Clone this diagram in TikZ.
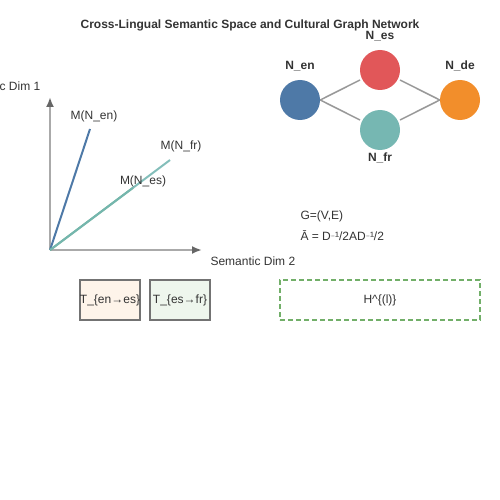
\documentclass[tikz,border=0pt]{standalone}
\usepackage{fontspec}
\setmainfont{Liberation Sans}
\newfontfamily\symfont{DejaVu Sans}
\usetikzlibrary{arrows,arrows.meta,positioning,backgrounds}

\definecolor{txt}{HTML}{333333}
\definecolor{cen}{HTML}{4E79A7}
\definecolor{ces}{HTML}{E15759}
\definecolor{cfr}{HTML}{76B7B2}
\definecolor{cde}{HTML}{F28E2B}
\definecolor{cgr}{HTML}{59A14F}
\definecolor{axis}{HTML}{AAAAAA}

\tikzset{
  lang/.style={circle,minimum size=40pt,inner sep=0pt},
  lbl/.style={font=\bfseries\fontsize{12}{14}\selectfont},
  tbox/.style={draw=black!55,line width=2pt,minimum width=60pt,minimum height=40pt,inner sep=0pt},
  vec/.style={line width=2pt},
  ax/.style={draw=axis,line width=2pt,-{Latex[length=10pt,width=8pt,color=black!60]}},
  link/.style={draw=black!40,line width=1.5pt}
}

\begin{document}
\begin{tikzpicture}[x=1pt,y=-1pt,font=\fontsize{12}{14}\selectfont,text=txt]
            \useasboundingbox (0,0) rectangle (500,500);
            \node[lbl] (title) at (250,25) {Cross-Lingual Semantic Space and Cultural Graph Network};

            % semantic space
            \coordinate (o) at (50,250);
            \coordinate (ytop) at (50,97);
            \coordinate (xend) at (202,250);
            \draw[ax] (o) -- (ytop);
            \draw[ax] (o) -- (xend);
            \node (ydim) at (-2,86) {Semantic Dim 1};
            \node[anchor=west] (xdim) at (207,261) {Semantic Dim 2};

            \coordinate (pen) at (90,129);
            \coordinate (pes) at (133,187.75);
            \coordinate (pfr) at (170,160);
            \draw[vec,cen] (o) -- (pen);
            \draw[vec,cgr!40!cfr] (o) -- (pes);
            \draw[vec,cfr,opacity=.9] (o) -- (pfr);
            \node (men) at (94,116) {M(N\_en)};
            \node (mfr) at (181,146) {M(N\_fr)};
            \node (mes) at (143,181) {M(N\_es)};

            % graph
            \node[lang,fill=cen] (en) at (300,100) {};
            \node[lang,fill=ces] (es) at (380,70) {};
            \node[lang,fill=cfr] (fr) at (380,130) {};
            \node[lang,fill=cde] (de) at (460,100) {};
            \node[lbl] (len) [above=5pt of en] {N\_en};
            \node[lbl] (les) [above=5pt of es] {N\_es};
            \node[lbl] (lfr) [below=-1pt of fr] {N\_fr};
            \node[lbl] (lde) [above=5pt of de] {N\_de};

            \begin{scope}[on background layer]
              \draw[link] (en.east) -- ([shift={(-20,10)}]es.center);
              \draw[link] (en.east) -- ([shift={(-20,-10)}]fr.center);
              \draw[link] ([shift={(20,10)}]es.center) -- (de.west);
              \draw[link] ([shift={(20,-10)}]fr.center) -- (de.west);
            \end{scope}

            \node[anchor=west] (gdef) at (297,216) {G=(V,E)};
            \node[anchor=west] (adef) at (297,236) {Ā = D{\symfont\fontsize{8}{8}\selectfont ⁻}¹/2AD{\symfont\fontsize{8}{8}\selectfont ⁻}¹/2};

            % transforms
            \node[tbox,fill=cde!10] (ten) at (110,300) {T\_\{en→es\}};
            \node[tbox,fill=cgr!10] (tes) at (180,300) {T\_\{es→fr\}};
            \node[draw=cgr!85,dash pattern=on 5pt off 3pt,line width=2pt,minimum width=200pt,minimum height=40pt] (hl) at (380,300) {H\textasciicircum\{(l)\}};

          \end{tikzpicture}
\end{document}
